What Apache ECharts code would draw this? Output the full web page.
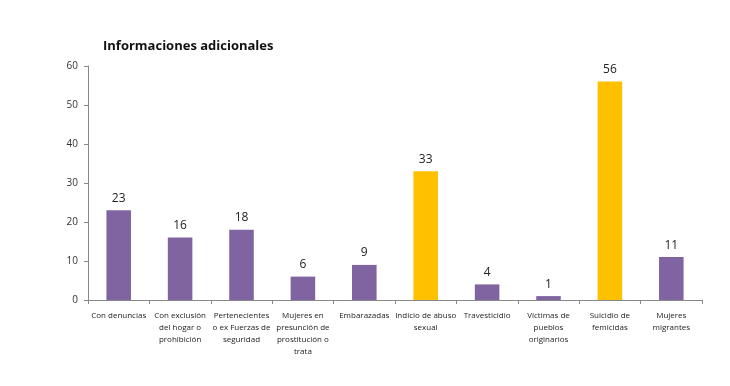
<!DOCTYPE html>
<html><head><meta charset="utf-8">
<script src="https://cdn.jsdelivr.net/npm/echarts@6/dist/echarts.min.js"></script>
<style>html,body{margin:0;padding:0;background:#fff}#c{width:730px;height:386px}</style>
</head><body><div id="c"></div>
<script>
const categories = ["Con denuncias","Con exclusión\ndel hogar o\nprohibición","Pertenecientes\no ex Fuerzas de\nseguridad","Mujeres en\npresunción de\nprostitución o\ntrata","Embarazadas","Indicio de abuso\nsexual","Travesticidio","Víctimas de\npueblos\noriginarios","Suicidio de\nfemicidas","Mujeres\nmigrantes"];
const values = [23,16,18,6,9,33,4,1,56,11];
const highlight = [false,false,false,false,false,true,false,false,true,false];
const chart = echarts.init(document.getElementById('c'));
chart.setOption({
  animation:false,
  title:{text:'Informaciones adicionales',left:98,top:35,textStyle:{fontFamily:'Open Sans',fontSize:13,fontWeight:'bold',color:'#111'}},
  grid:{left:88,right:28,top:66,bottom:86},
  xAxis:{type:'category',data:categories,
    axisLine:{lineStyle:{color:'#888'}},
    axisTick:{show:true,length:4,lineStyle:{color:'#888'}},
    axisLabel:{interval:0,fontFamily:'Open Sans',fontSize:8,color:'#222',lineHeight:12,margin:10}},
  yAxis:{type:'value',min:0,max:60,interval:10,
    axisLine:{show:true,lineStyle:{color:'#888'}},
    axisTick:{show:true,length:4,lineStyle:{color:'#888'}},
    splitLine:{show:false},
    axisLabel:{fontFamily:'Open Sans',fontSize:10,color:'#333',margin:10}},
  series:[{type:'bar',barWidth:'40%',
    data:values.map((v,i)=>({value:v,itemStyle:{color:highlight[i]?'#FFC000':'#8064A2'}})),
    label:{show:true,position:'top',distance:6,fontFamily:'Open Sans',fontSize:12,color:'#222'}}]
});
</script></body></html>
